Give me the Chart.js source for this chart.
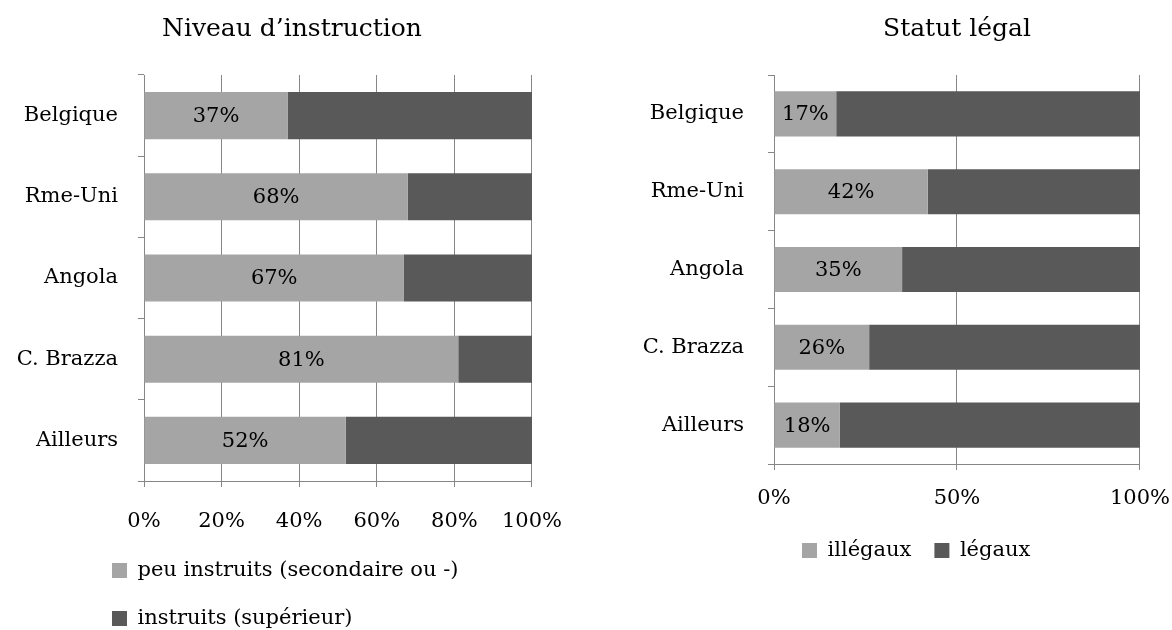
<!DOCTYPE html>
<html>
<head>
<meta charset="utf-8">
<script src="https://cdn.jsdelivr.net/npm/chart.js@4/dist/chart.umd.min.js"></script>
<style>
    html, body { margin: 0; padding: 0; background: #fff; overflow: hidden; }
    #instructionBox { position: absolute; left: 0; top: 0; width: 584px; height: 639px; }
    #statutBox { position: absolute; left: 600px; top: 0; width: 586px; height: 571px; }
</style>
</head>
<body>
<div id="instructionBox"><canvas id="instructionChart"></canvas></div>
<div id="statutBox"><canvas id="statutChart"></canvas></div>
<script>
    var countries = ['Belgique', 'Rme-Uni', 'Angola', 'C. Brazza', 'Ailleurs'];

    var peuInstruits = [37, 68, 67, 81, 52];
    var instruits = [63, 32, 33, 19, 48];

    var illegaux = [17, 42, 35, 26, 18];
    var legaux = [83, 58, 65, 74, 82];

    var LIGHT = '#a5a5a5';
    var DARK = '#595959';
    var GRID = '#868686';
    var FAMILY = '"DejaVu Serif", "Liberation Serif", serif';

    Chart.defaults.color = '#000';
    Chart.defaults.font.family = FAMILY;
    Chart.defaults.font.size = 21;

    // percentage written in the middle of the first (light) segment
    var segmentLabels = {
        id: 'segmentLabels',
        afterDatasetsDraw: function (chart) {
            var ctx = chart.ctx;
            var meta = chart.getDatasetMeta(0);
            var values = chart.data.datasets[0].data;
            ctx.save();
            ctx.font = '21px ' + FAMILY;
            ctx.fillStyle = '#000';
            ctx.textAlign = 'center';
            ctx.textBaseline = 'middle';
            meta.data.forEach(function (bar, i) {
                ctx.fillText(values[i] + '%', (bar.x + bar.base) / 2, bar.y + 1);
            });
            ctx.restore();
        }
    };

    // moves the legend so its first box starts at a given x
    var legendShift = {
        id: 'legendShift',
        afterLayout: function (chart, args, opts) {
            var legend = chart.legend;
            if (!legend || opts.x === undefined) return;
            var dx = opts.x - (legend.left + legend.options.labels.padding);
            legend.left += dx;
            legend.right += dx;
        }
    };

    function buildChart(id, cfg) {
        var ctx = document.getElementById(id).getContext('2d');
        return new Chart(ctx, {
            type: 'bar',
            data: {
                labels: countries,
                datasets: [
                    { label: cfg.names[0], data: cfg.first, backgroundColor: LIGHT, borderWidth: 0,
                      barPercentage: 0.58, categoryPercentage: 1 },
                    { label: cfg.names[1], data: cfg.second, backgroundColor: DARK, borderWidth: 0,
                      barPercentage: 0.58, categoryPercentage: 1 }
                ]
            },
            plugins: [segmentLabels, legendShift],
            options: {
                indexAxis: 'y',
                responsive: true,
                maintainAspectRatio: false,
                animation: false,
                layout: { padding: 0 },
                scales: {
                    x: {
                        stacked: true,
                        min: 0,
                        max: 100,
                        grid: { color: GRID, lineWidth: 1, tickLength: 6, tickColor: GRID },
                        border: { color: GRID, width: 1 },
                        ticks: {
                            stepSize: cfg.step,
                            padding: cfg.xPad,
                            maxRotation: 0,
                            font: { size: 21 },
                            callback: function (v) { return v + '%'; }
                        },
                        afterFit: function (scale) { scale.height = cfg.xHeight; }
                    },
                    y: {
                        stacked: true,
                        grid: { drawOnChartArea: false, tickLength: 6, tickColor: GRID, offset: true },
                        border: { color: GRID, width: 1 },
                        ticks: { padding: cfg.yPad, font: { size: 21 } },
                        afterFit: function (scale) { scale.width = cfg.yWidth; }
                    }
                },
                plugins: {
                    title: {
                        display: true,
                        text: cfg.title,
                        fullSize: cfg.titleFull,
                        font: { size: 25, weight: 'normal' },
                        padding: { top: 14, bottom: 31 }
                    },
                    legend: {
                        position: 'bottom',
                        align: 'start',
                        labels: {
                            boxWidth: 15,
                            boxHeight: 15,
                            padding: cfg.legendPad,
                            font: { size: 21 }
                        }
                    },
                    legendShift: { x: cfg.legendX },
                    tooltip: { enabled: false }
                }
            }
        });
    }

    buildChart('instructionChart', {
        title: 'Niveau d\u2019instruction',
        titleFull: true,
        names: ['peu instruits (secondaire ou -)', 'instruits (supérieur)'],
        first: peuInstruits,
        second: instruits,
        step: 20,
        yWidth: 144,
        yPad: 20,
        xPad: 22,
        xHeight: 52,
        legendPad: 27,
        legendX: 112
    });

    buildChart('statutChart', {
        title: 'Statut légal',
        titleFull: false,
        names: ['illégaux', 'légaux'],
        first: illegaux,
        second: legaux,
        step: 50,
        yWidth: 174,
        yPad: 24,
        xPad: 16,
        xHeight: 53,
        legendPad: 23,
        legendX: 202
    });
</script>
</body>
</html>
